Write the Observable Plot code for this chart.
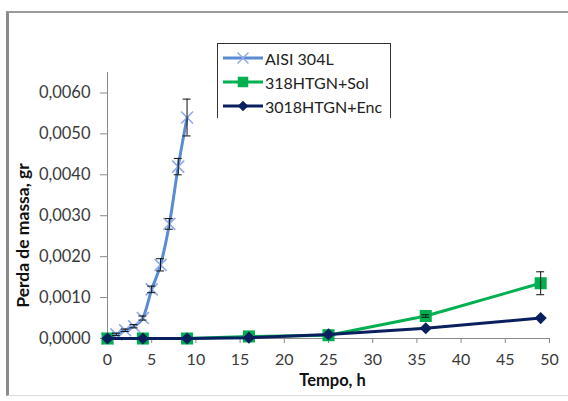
<!DOCTYPE html>
<html>
<head>
<meta charset="utf-8">
<script src="https://cdn.jsdelivr.net/npm/d3@7"></script>
<script src="https://cdn.jsdelivr.net/npm/@observablehq/plot@0.6"></script>
<style>
  html, body { margin: 0; padding: 0; background: #fff; }
  #wrap { position: relative; width: 568px; height: 401px; overflow: hidden; font-family: Lato, "Open Sans", sans-serif; }
  #border { position: absolute; left: 6px; top: 11px; width: 600px; height: 385px;
            border-left: 3px solid #8c8c8c; border-top: 2px solid #9a9a9a; border-bottom: 1px solid #dcdcdc; box-sizing: border-box; }
  #legend { position: absolute; left: 217px; top: 43px; width: 174px; height: 75px;
            border: 1px solid #333; border-bottom: none; background: #fff; box-sizing: border-box; }
  .row { position: absolute; left: 4px; height: 24px; display: flex; align-items: center; font-size: 16px; color: #222; white-space: nowrap; }
  .row svg { margin-right: 1px; }
</style>
</head>
<body>
<div id="wrap"><div id="border"></div></div>
<script>
// ---- data ----
const seriesNames = ["AISI 304L", "318HTGN+Sol", "3018HTGN+Enc"];
const seriesColors = ["#5B8CD3", "#00B050", "#0A1F5E"];

const aisiX   = [0, 1, 2, 3, 4, 5, 6, 7, 8, 9];
const aisiY   = [0, 0.0001, 0.0002, 0.0003, 0.0005, 0.0012, 0.0018, 0.0028, 0.0042, 0.0054];
const aisiErr = [0, 0.00003, 0.00003, 0.00004, 0.00005, 0.00008, 0.00015, 0.00013, 0.0002, 0.00045];

const solX   = [0, 4, 9, 16, 25, 36, 49];
const solY   = [0, 0, 0, 0.00005, 0.00008, 0.00055, 0.00135];
const solErr = [0, 0, 0, 0, 0, 0.00003, 0.00028];

const encX   = [0, 4, 9, 16, 25, 36, 49];
const encY   = [0, 0, 0, 0.00002, 0.0001, 0.00025, 0.0005];
const encErr = [0, 0, 0, 0, 0, 0, 0];

const xTicks = [0, 5, 10, 15, 20, 25, 30, 35, 40, 45, 50];
const yTicks = [0, 0.001, 0.002, 0.003, 0.004, 0.005, 0.006];

// ---- tables ----
const mk = (xs, ys, es) => xs.map((x, i) => ({x, y: ys[i], e: es[i]}));
const aisi = mk(aisiX, aisiY, aisiErr);
const sol = mk(solX, solY, solErr);
const enc = mk(encX, encY, encErr);
const withErr = [...aisi, ...sol, ...enc].filter(d => d.e > 0);
const fmt = d => d3.format(".4f")(d).replace(".", ",");

const chart = Plot.plot({
  width: 568, height: 401,
  marginLeft: 107, marginRight: 19, marginTop: 72, marginBottom: 63,
  style: {fontFamily: "Lato, 'Open Sans', sans-serif", fontSize: "16.5px", background: "transparent", overflow: "visible"},
  x: {domain: [0, 50]},
  y: {domain: [0, 0.0065]},
  marks: [
    Plot.ruleX([0], {stroke: "#8a8a8a", strokeWidth: 1}),
    Plot.ruleY([0], {stroke: "#8a8a8a", strokeWidth: 1}),
    Plot.axisY({ticks: yTicks, tickFormat: fmt, tickSize: 7, tickPadding: 10, stroke: "#8a8a8a", fill: "#3a3a3a", fontSize: 16.5, label: null}),
    Plot.axisX({ticks: xTicks, tickSize: 5, tickPadding: 10, stroke: "#8a8a8a", fill: "#3a3a3a", fontSize: 16, label: null}),
    Plot.text(["Tempo, h"], {frameAnchor: "bottom", textAnchor: "middle", dx: 4, dy: 42, lineAnchor: "middle", fontWeight: "bold", fontSize: 16.5, fill: "#111"}),
    Plot.text(["Perda de massa, gr"], {frameAnchor: "left", textAnchor: "middle", dx: -84, dy: 30, rotate: -90, lineAnchor: "middle", fontWeight: "bold", fontSize: 17.5, fill: "#111"}),
    // AISI
    Plot.line(aisi, {x: "x", y: "y", stroke: seriesColors[0], strokeWidth: 3, curve: "monotone-x"}),
    Plot.dot(aisi, {x: "x", y: "y", symbol: "times", r: 5.5, stroke: "#8FAAE6", strokeWidth: 1.6}),
    // Sol
    Plot.line(sol, {x: "x", y: "y", stroke: seriesColors[1], strokeWidth: 3}),
    Plot.dot(sol, {x: "x", y: "y", symbol: "square", r: 6.8, fill: seriesColors[1], stroke: "none"}),
    // Enc
    Plot.line(enc, {x: "x", y: "y", stroke: seriesColors[2], strokeWidth: 3}),
    Plot.dot(enc, {x: "x", y: "y", symbol: "diamond2", r: 5.5, fill: seriesColors[2], stroke: "none"}),
    // error bars
    Plot.ruleX(withErr, {x: "x", y1: d => d.y - d.e, y2: d => d.y + d.e, stroke: "#111", strokeWidth: 1}),
    Plot.ruleY(withErr, {y: d => d.y + d.e, x1: d => d.x - 0.45, x2: d => d.x + 0.45, stroke: "#111", strokeWidth: 1}),
    Plot.ruleY(withErr, {y: d => d.y - d.e, x1: d => d.x - 0.45, x2: d => d.x + 0.45, stroke: "#111", strokeWidth: 1})
  ]
});
chart.style.position = "absolute";
chart.style.left = "0px";
chart.style.top = "0px";
const wrap = document.getElementById("wrap");
wrap.appendChild(chart);

// legend
const legend = document.createElement("div");
legend.id = "legend";
const symbols = [d3.symbolTimes, d3.symbolSquare, d3.symbolDiamond2];
const symSizes = [80, 110, 70];
const symFill = ["none", seriesColors[1], seriesColors[2]];
const symStroke = ["#8FAAE6", "none", "none"];
seriesNames.forEach((name, i) => {
  const row = document.createElement("div");
  row.className = "row";
  row.style.top = (2 + i * 24) + "px";
  const s = d3.create("svg").attr("width", 42).attr("height", 20);
  s.append("line").attr("x1", 1).attr("x2", 41).attr("y1", 10).attr("y2", 10)
    .attr("stroke", seriesColors[i]).attr("stroke-width", 3);
  s.append("path").attr("transform", "translate(21,10)")
    .attr("d", d3.symbol(symbols[i], symSizes[i])())
    .attr("fill", symFill[i]).attr("stroke", symStroke[i]).attr("stroke-width", 1.4);
  row.appendChild(s.node());
  const t = document.createElement("span");
  t.textContent = name;
  row.appendChild(t);
  legend.appendChild(row);
});
wrap.appendChild(legend);
</script>
</body>
</html>
